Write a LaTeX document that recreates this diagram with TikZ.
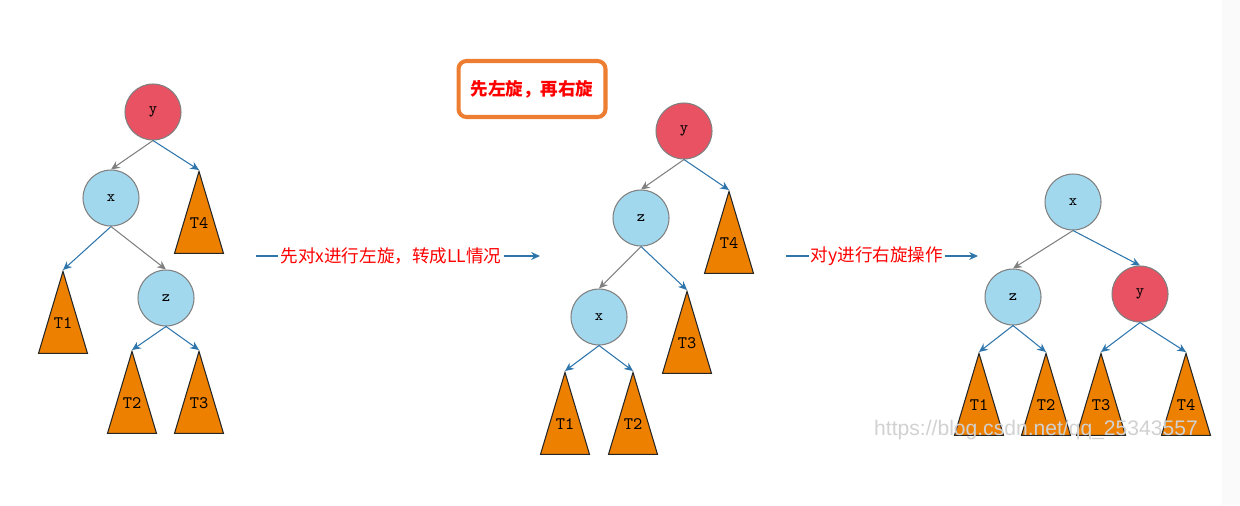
\documentclass[tikz,border=0pt]{standalone}
\usepackage{fontspec}
\newfontfamily\cjk{Noto Sans CJK SC}
\newfontfamily\markfont{Liberation Sans}
\usetikzlibrary{arrows.meta,shapes.geometric,calc}
\definecolor{NodeRed}{RGB}{232,82,98}
\definecolor{NodeBlue}{RGB}{162,216,238}
\definecolor{TreeOrange}{RGB}{238,128,0}
\definecolor{LinkBlue}{RGB}{46,117,172}
\definecolor{BoxOrange}{RGB}{237,125,49}
\tikzset{
  hot/.style={circle,draw=gray,fill=NodeRed,line width=0.6pt,
    minimum size=1.12cm,inner sep=0pt,font=\ttfamily\fontsize{9}{10}\selectfont},
  cool/.style={hot,fill=NodeBlue},
  subtree/.style={isosceles triangle,isosceles triangle stretches,
    shape border rotate=90,draw=black!85,fill=TreeOrange,line width=0.6pt,
    minimum width=0.98cm,minimum height=1.64cm,inner sep=0pt,anchor=apex},
  tlabel/.style={font=\ttfamily\fontsize{10}{11}\selectfont,inner sep=0pt},
  link/.style={-{Stealth[length=5pt,width=4.5pt]},LinkBlue,line width=0.6pt},
  graylink/.style={link,gray},
  turn/.style={font=\cjk\fontsize{10}{12}\selectfont,text=red,inner sep=1pt},
  notebox/.style={draw=BoxOrange,line width=2.3pt,rounded corners=4.5pt,
    minimum width=2.94cm,minimum height=1.12cm,text=red,
    font=\cjk\bfseries\fontsize{10}{12}\selectfont}
}

\begin{document}
\begin{tikzpicture}[x=0.02cm,y=-0.02cm]
  \useasboundingbox (0,0) rectangle (1240,505);
  \fill[black!2] (1222,0) rectangle (1240,505);

  % first tree
  \node[hot] (y1) at (153,112) {y};
  \node[cool] (x1) at (111,198) {x};
  \node[cool] (z1) at (166,298) {z};
  \node[subtree] (t14) at (199,170) {};
  \node[subtree] (t11) at (63,270) {};
  \node[subtree] (t12) at (132,350) {};
  \node[subtree] (t13) at (199,350) {};
  \draw[graylink] (y1.south) -- (x1.north);
  \draw[link] (y1.south) -- (t14.apex);
  \draw[link] (x1.south) -- (t11.apex);
  \draw[graylink] (x1.south) -- (z1.north);
  \draw[link] (z1.south) -- (t12.apex);
  \draw[link] (z1.south) -- (t13.apex);

  % second tree
  \node[hot] (y2) at (684,131) {y};
  \node[cool] (z2) at (641,218) {z};
  \node[cool] (x2) at (599,317) {x};
  \node[subtree] (t24) at (729,190) {};
  \node[subtree] (t23) at (687,290) {};
  \node[subtree] (t21) at (565,371) {};
  \node[subtree] (t22) at (633,371) {};
  \draw[graylink] (y2.south) -- (z2.north);
  \draw[link] (y2.south) -- (t24.apex);
  \draw[graylink] (z2.south) -- (x2.north);
  \draw[link] (z2.south) -- (t23.apex);
  \draw[link] (x2.south) -- (t21.apex);
  \draw[link] (x2.south) -- (t22.apex);

  % third tree
  \node[cool] (x3) at (1073,202) {x};
  \node[cool] (z3) at (1013,297) {z};
  \node[hot] (y3) at (1140,294) {y};
  \node[subtree] (t31) at (979,352) {};
  \node[subtree] (t32) at (1046,352) {};
  \node[subtree] (t33) at (1101,352) {};
  \node[subtree] (t34) at (1186,352) {};
  \draw[graylink] (x3.south) -- (z3.north);
  \draw[link] (x3.south) -- (y3.north);
  \draw[link] (z3.south) -- (t31.apex);
  \draw[link] (z3.south) -- (t32.apex);
  \draw[link] (y3.south) -- (t33.apex);
  \draw[link] (y3.south) -- (t34.apex);

  \foreach \t/\s in {t11/T1,t12/T2,t13/T3,t14/T4,t21/T1,t22/T2,t23/T3,t24/T4,
                     t31/T1,t32/T2,t33/T3,t34/T4}
    \node[tlabel] (\t-l) at ($(\t.apex)!0.63!(\t.lower side)$) {\s};

  % rotation steps
  \node[notebox] (hint) at (532,89) {先左旋，再右旋};
  \coordinate (s1) at (256,256);
  \coordinate (e1) at (540,256);
  \node[turn] (turn1) at (391,256) {先对x进行左旋，转成LL情况};
  \draw[link,-] (s1) -- (turn1);
  \draw[link] (turn1) -- (e1);
  \coordinate (s2) at (786,256);
  \coordinate (e2) at (978,256);
  \node[turn] (turn2) at (877,256) {对y进行右旋操作};
  \draw[link,-] (s2) -- (turn2);
  \draw[link] (turn2) -- (e2);

  \node[font=\markfont\fontsize{12}{13}\selectfont,text=black!18] (mark)
    at (1036,430) {https://blog.csdn.net/qq\_25343557};
\end{tikzpicture}
\end{document}
